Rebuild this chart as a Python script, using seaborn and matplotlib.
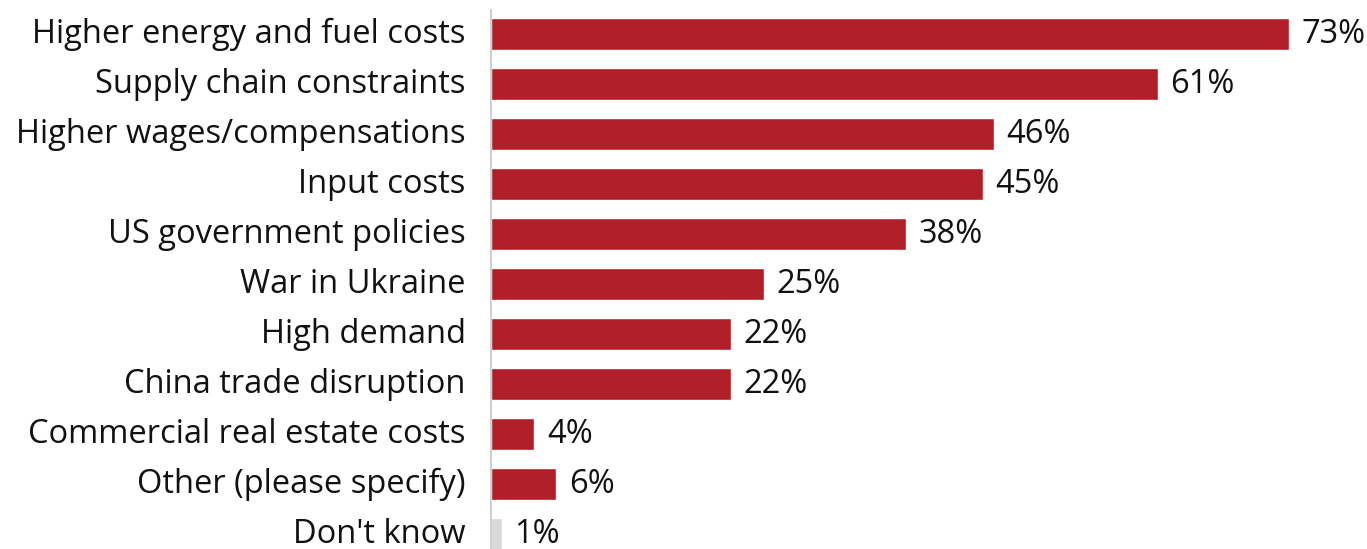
import matplotlib
matplotlib.use("Agg")
import matplotlib.pyplot as plt
import seaborn as sns
import pandas as pd

categories = ["Higher energy and fuel costs", "Supply chain constraints",
              "Higher wages/compensations", "Input costs", "US government policies",
              "War in Ukraine", "High demand", "China trade disruption",
              "Commercial real estate costs", "Other (please specify)", "Don't know"]
values = [73, 61, 46, 45, 38, 25, 22, 22, 4, 6, 1]
labels = ["73%", "61%", "46%", "45%", "38%", "25%", "22%", "22%", "4%", "6%", "1%"]

RED = "#B01F28"
GRAY = "#D9D9D9"
colors = [RED] * 10 + [GRAY]

sns.set_theme(style="white")
plt.rcParams['font.family'] = ['Open Sans', 'DejaVu Sans']

df = pd.DataFrame({"cat": categories, "val": values})

fig = plt.figure(figsize=(13.67, 5.49), dpi=100)
ax = fig.add_axes([0.359, 0.0, 0.6397, 1 - 10 / 549])
sns.barplot(data=df, x="val", y="cat", hue="cat", palette=colors, legend=False,
            width=0.64, ax=ax, saturation=1)
ax.set_xlim(0, 80)
ax.set_ylim(10.3, -0.48)
ax.set_xlabel("")
ax.set_ylabel("")
ax.set_xticks([])
ax.set_yticklabels([])
for s in ["top", "right", "bottom"]:
    ax.spines[s].set_visible(False)
ax.spines["left"].set_color("#D0D0D0")
ax.spines["left"].set_linewidth(1.5)
ax.tick_params(axis="y", length=0)

for i, (c, v, t) in enumerate(zip(categories, values, labels)):
    ax.annotate(c, xy=(0, i), xytext=(-18, -0.5), textcoords="offset points",
                va="center", ha="right", fontsize=23.5, color="#111111",
                annotation_clip=False)
    ax.annotate(t, xy=(v, i), xytext=(9, -0.5), textcoords="offset points",
                va="center", ha="left", fontsize=23.5, color="#111111",
                annotation_clip=False)

fig.savefig("out.png", dpi=100)
